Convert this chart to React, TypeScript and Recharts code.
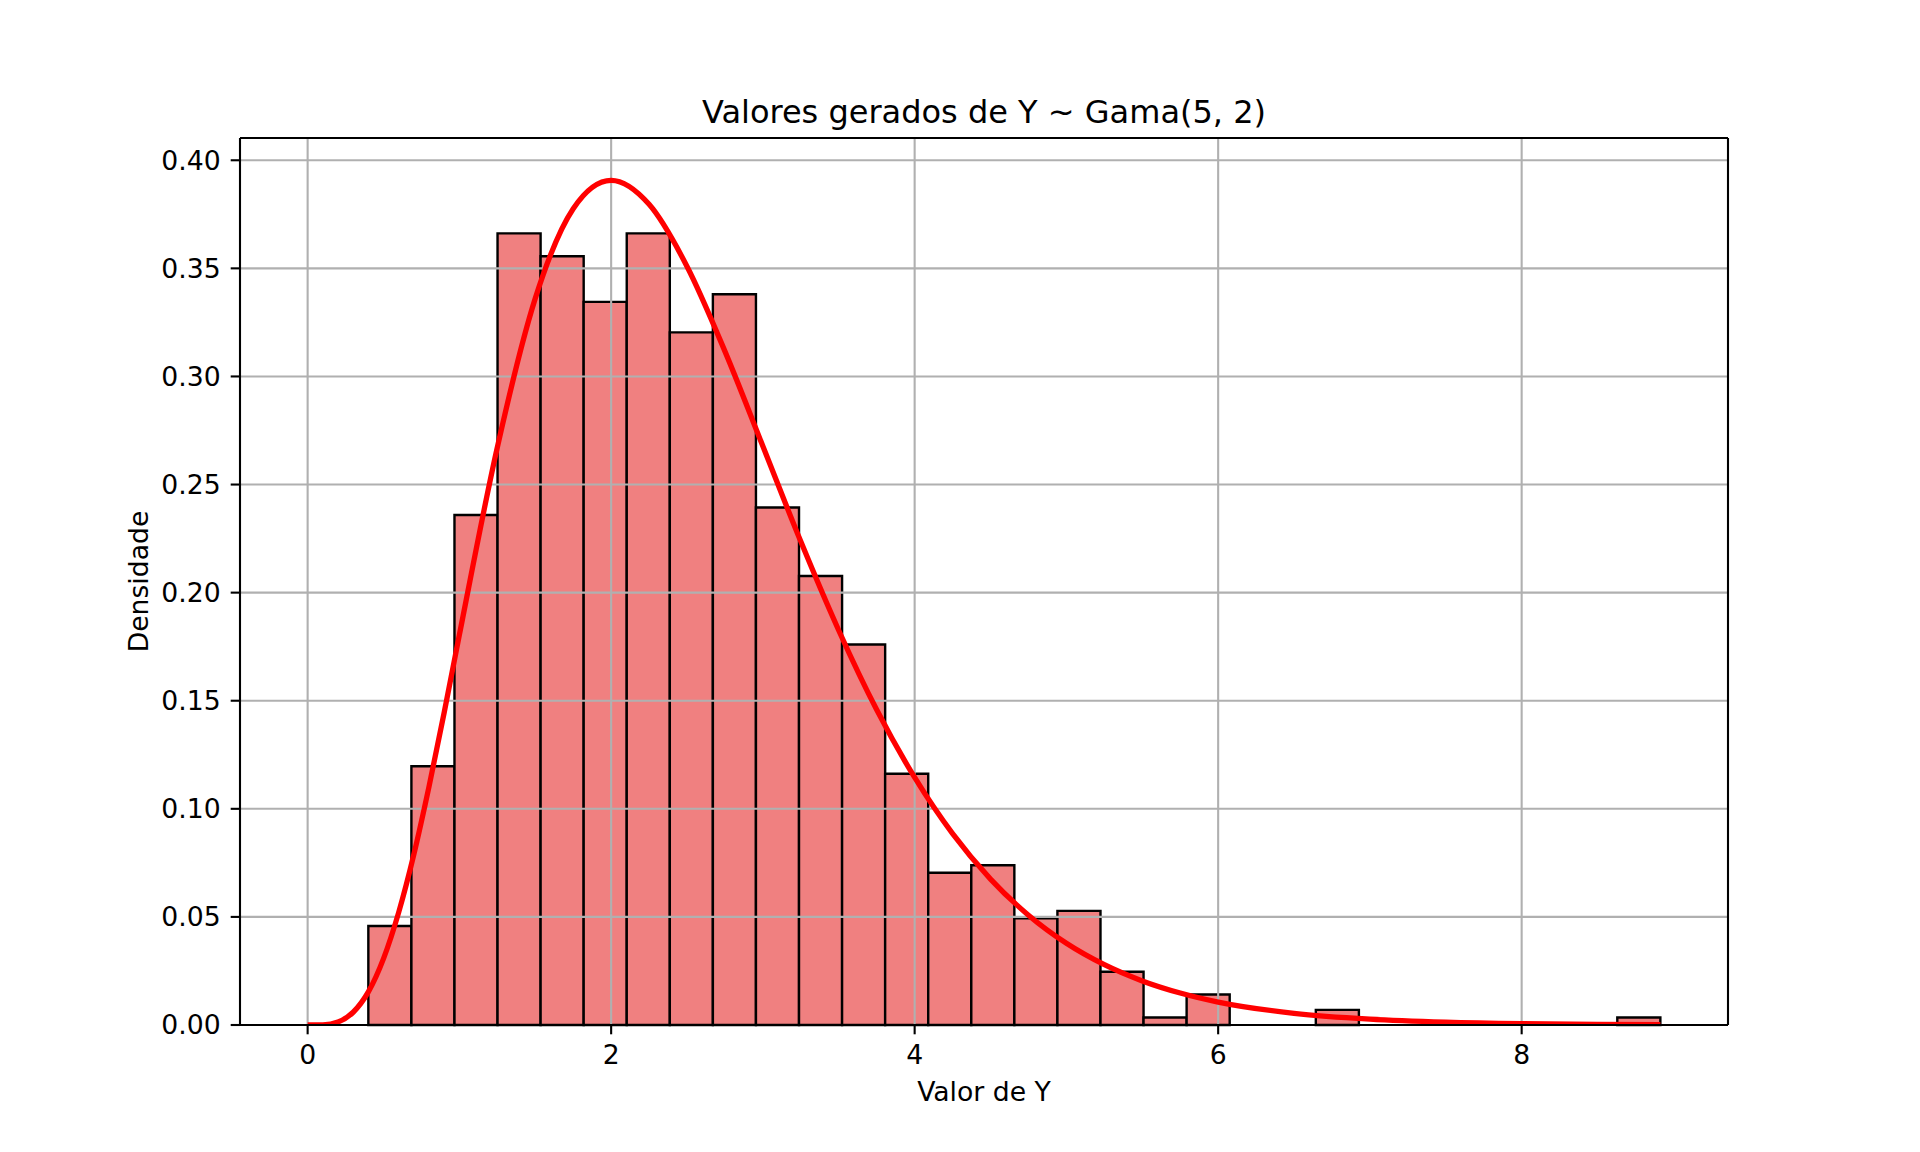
import React from 'react';
import {
  ComposedChart,
  Line,
  XAxis,
  YAxis,
  ReferenceArea,
  ReferenceLine
} from 'recharts';

// bordas dos 30 intervalos do histograma
const binEdges = [
  0.4, 0.6838, 0.9676, 1.2514, 1.5352, 1.819, 2.1028, 2.3866, 2.6704, 2.9542,
  3.238, 3.5218, 3.8056, 4.0894, 4.3732, 4.657, 4.9408, 5.2246, 5.5084, 5.7922,
  6.076, 6.3598, 6.6436, 6.9274, 7.2112, 7.495, 7.7788, 8.0626, 8.3464, 8.6302,
  8.914
];

// densidade de cada barra
const densities = [
  0.0458, 0.1197, 0.2359, 0.3662, 0.3556, 0.3345, 0.3662, 0.3204, 0.338, 0.2394,
  0.2077, 0.176, 0.1162, 0.0704, 0.0739, 0.0493, 0.0528, 0.0246, 0.0035, 0.0141,
  0, 0, 0.007, 0, 0, 0, 0, 0, 0, 0.0035
];

// curva teórica (vermelha)
const curveX = [
  0, 0.1, 0.2, 0.3, 0.4, 0.5, 0.6, 0.7, 0.8, 0.9, 1, 1.25, 1.5, 1.75, 2, 2.25,
  2.5, 2.75, 3, 3.25, 3.5, 3.75, 4, 4.25, 4.5, 4.75, 5, 5.25, 5.5, 5.75, 6, 6.5,
  7, 7.5, 8, 8.5, 8.914
];
const curveY = [
  0, 0.0001, 0.0014, 0.0059, 0.0153, 0.0307, 0.0521, 0.0789, 0.1103, 0.1446,
  0.1805, 0.2672, 0.3361, 0.3776, 0.3907, 0.3796, 0.3509, 0.3116, 0.2677, 0.2236,
  0.1825, 0.1458, 0.1145, 0.0885, 0.0675, 0.0508, 0.0378, 0.0279, 0.0204, 0.0148,
  0.0106, 0.0054, 0.0027, 0.0013, 0.0006, 0.0003, 0.0002
];

const xTicks = [0, 2, 4, 6, 8];
const yTicks = [0, 0.05, 0.1, 0.15, 0.2, 0.25, 0.3, 0.35, 0.4];

const xDomain: [number, number] = [-0.4457, 9.3597];
const yDomain: [number, number] = [0, 0.4103];

const FONT = 'DejaVu Sans';

const App: React.FC = () => {
  const curveData = curveX.map((x, i) => ({ x, pdf: curveY[i] }));

  const bins = densities
    .map((d, i) => ({ x1: binEdges[i], x2: binEdges[i + 1], d }))
    .filter((b) => b.d > 0);

  const tickStyle = { fontFamily: FONT, fontSize: 26.67, fill: '#000' };

  return (
    <div style={{ position: 'absolute', left: 0, top: 0, width: 1920, height: 1152, background: '#fff' }}>
      <ComposedChart
        width={1920}
        height={1152}
        data={curveData}
        margin={{ top: 138, right: 192, bottom: 0, left: 0 }}
      >
        <XAxis
          dataKey="x"
          type="number"
          domain={xDomain}
          ticks={xTicks}
          allowDataOverflow
          height={127}
          tickSize={9.3}
          tickMargin={11}
          tick={tickStyle}
          axisLine={{ stroke: '#000', strokeWidth: 2.1 }}
          tickLine={{ stroke: '#000', strokeWidth: 2.1 }}
        />
        <YAxis
          type="number"
          domain={yDomain}
          ticks={yTicks}
          allowDataOverflow
          width={240}
          tickSize={9.3}
          tickMargin={10}
          tick={tickStyle}
          tickFormatter={(v: number) => v.toFixed(2)}
          axisLine={{ stroke: '#000', strokeWidth: 2.1 }}
          tickLine={{ stroke: '#000', strokeWidth: 2.1 }}
        />

        {/* barras do histograma */}
        {bins.map((b, i) => (
          <ReferenceArea
            key={'bin' + i}
            x1={b.x1}
            x2={b.x2}
            y1={0}
            y2={b.d}
            fill="#f08080"
            fillOpacity={1}
            stroke="#000"
            strokeWidth={2.4}
          />
        ))}

        {/* grade por cima das barras */}
        {yTicks.map((t) => (
          <ReferenceLine key={'gy' + t} y={t} stroke="#b0b0b0" strokeWidth={2.1} />
        ))}
        {xTicks.map((t) => (
          <ReferenceLine key={'gx' + t} x={t} stroke="#b0b0b0" strokeWidth={2.1} />
        ))}

        {/* moldura superior e direita */}
        <ReferenceLine y={yDomain[1]} stroke="#000" strokeWidth={2.1} />
        <ReferenceLine x={xDomain[1]} stroke="#000" strokeWidth={2.1} />

        <Line
          type="monotone"
          dataKey="pdf"
          stroke="#ff0000"
          strokeWidth={5.3}
          dot={false}
          activeDot={false}
          isAnimationActive={false}
        />
      </ComposedChart>

      <svg
        width={1920}
        height={1152}
        style={{ position: 'absolute', left: 0, top: 0, pointerEvents: 'none' }}
      >
        <text x={984} y={123} textAnchor="middle" fontFamily={FONT} fontSize={32} fill="#000">
          Valores gerados de Y ~ Gama(5, 2)
        </text>
        <text x={984} y={1101} textAnchor="middle" fontFamily={FONT} fontSize={26.67} fill="#000">
          Valor de Y
        </text>
        <text
          x={148}
          y={581.5}
          textAnchor="middle"
          fontFamily={FONT}
          fontSize={26.67}
          fill="#000"
          transform="rotate(-90 148 581.5)"
        >
          Densidade
        </text>
      </svg>
    </div>
  );
};

export default App;
